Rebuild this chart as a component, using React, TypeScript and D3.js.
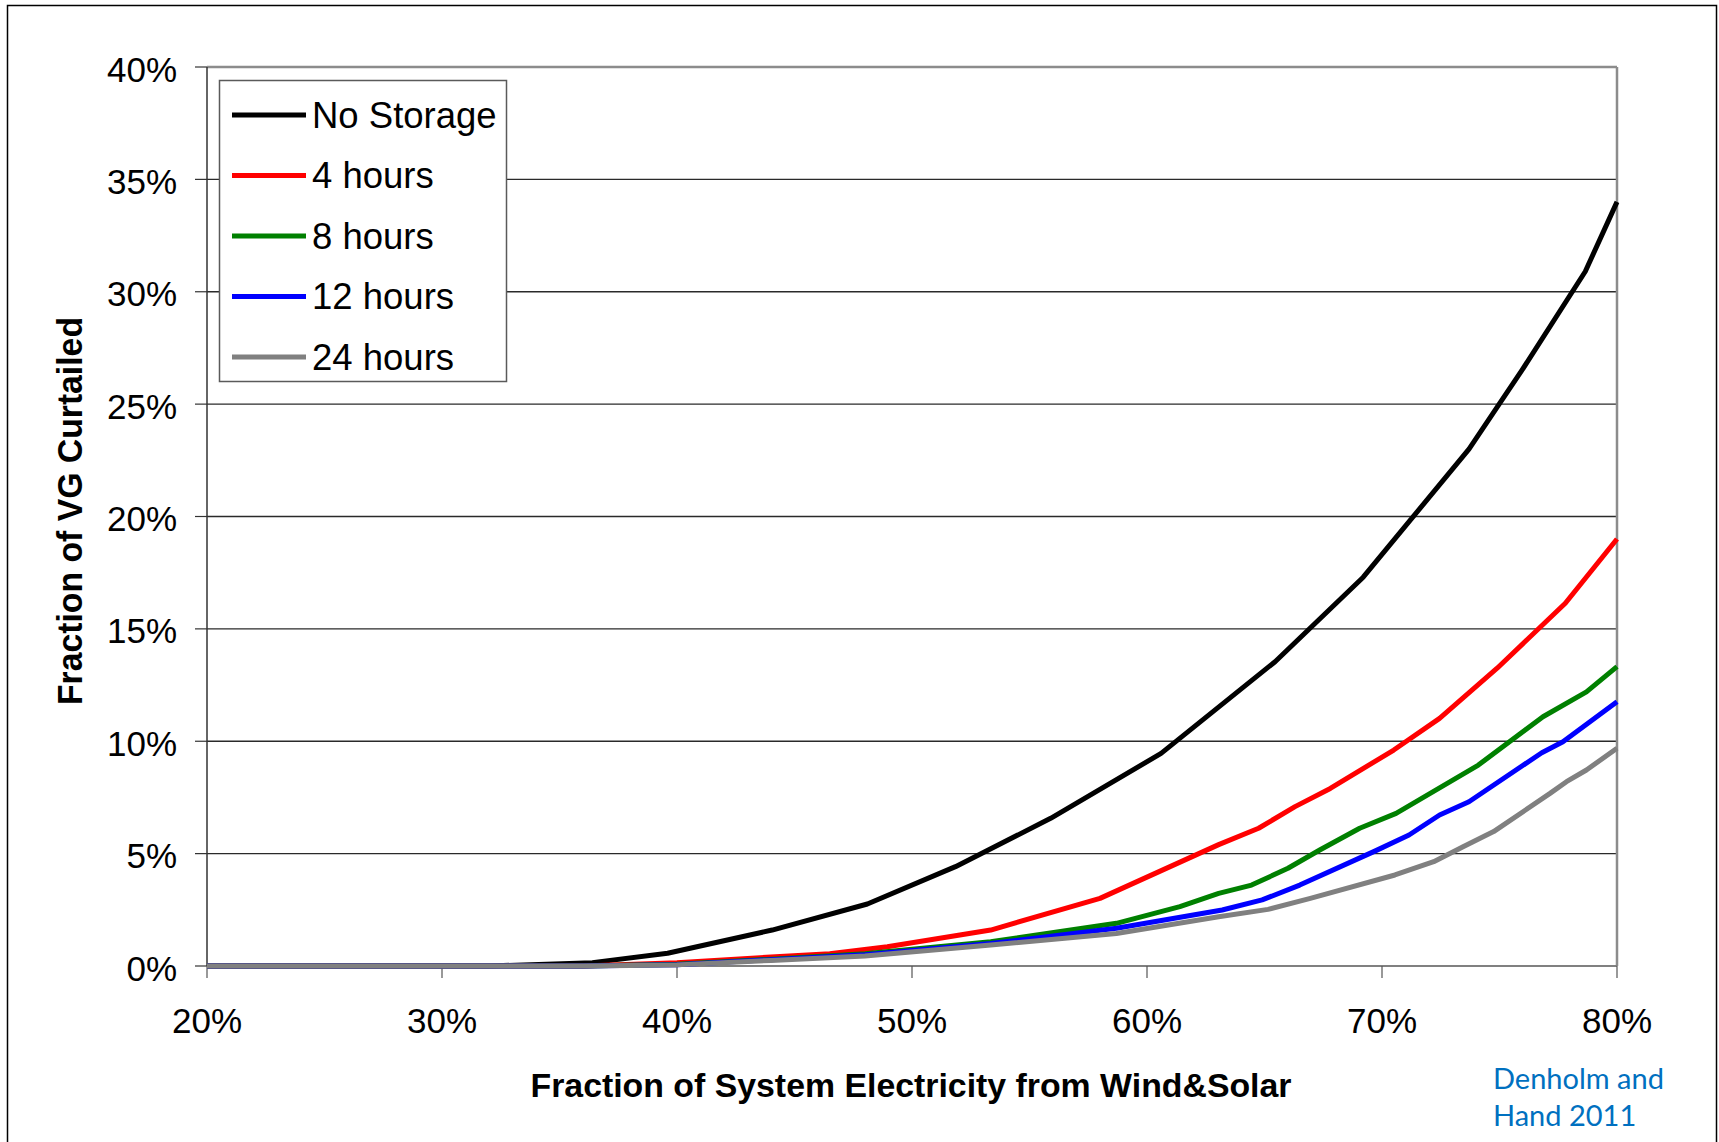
import React from 'react';
import * as d3 from 'd3';

// series values (x = % of electricity from wind & solar, y = % curtailed)
const noStorageX = [20, 24, 28, 32, 36.4, 39.6, 44.05, 48.1, 51.85, 55.9, 60.6, 65.45, 69.2, 73.7, 75.95, 78.65, 80];
const noStorageY = [0, 0, 0, 0, 0.15, 0.57, 1.6, 2.76, 4.42, 6.57, 9.46, 13.54, 17.3, 23.0, 26.5, 30.9, 34.0];

const hours4X = [20, 24, 28, 32, 36, 40, 44, 46.5, 48.95, 53.35, 58.0, 63.05, 64.75, 66.3, 67.8, 70.5, 72.45, 74.9, 77.8, 80];
const hours4Y = [0, 0, 0, 0, 0, 0.15, 0.4, 0.55, 0.86, 1.6, 3.01, 5.4, 6.13, 7.09, 7.9, 9.61, 11.02, 13.25, 16.14, 19.0];

const hours8X = [20, 24, 28, 32, 36, 40, 44, 48, 53.35, 58.7, 61.4, 63.05, 64.45, 66.0, 67.35, 69.05, 70.6, 74.1, 76.85, 78.7, 80];
const hours8Y = [0, 0, 0, 0, 0, 0.08, 0.3, 0.55, 1.08, 1.9, 2.64, 3.23, 3.6, 4.35, 5.16, 6.13, 6.79, 8.94, 11.09, 12.2, 13.32];

const hours12X = [20, 24, 28, 32, 36, 40, 44, 48, 53.35, 58.7, 63.2, 64.9, 66.5, 69.65, 71.15, 72.45, 73.7, 76.8, 77.7, 80];
const hours12Y = [0, 0, 0, 0, 0, 0.06, 0.28, 0.5, 1.0, 1.68, 2.49, 2.94, 3.6, 5.09, 5.83, 6.72, 7.31, 9.49, 9.98, 11.76];

const hours24X = [20, 24, 28, 32, 36, 40, 44, 48, 53.35, 58.7, 63.05, 65.15, 66.95, 70.55, 72.2, 73.45, 74.75, 77.15, 77.85, 78.7, 80];
const hours24Y = [0, 0, 0, 0, 0, 0.05, 0.25, 0.45, 0.93, 1.45, 2.19, 2.52, 3.01, 4.05, 4.64, 5.31, 5.98, 7.68, 8.2, 8.72, 9.69];

const seriesNames = ['No Storage', '4 hours', '8 hours', '12 hours', '24 hours'];
const seriesColors = ['#000000', '#ff0000', '#008000', '#0000ff', '#808080'];
const seriesX = [noStorageX, hours4X, hours8X, hours12X, hours24X];
const seriesY = [noStorageY, hours4Y, hours8Y, hours12Y, hours24Y];

const xTicks = [20, 30, 40, 50, 60, 70, 80];
const yTicks = [0, 5, 10, 15, 20, 25, 30, 35, 40];

const font = '"Liberation Sans", Arial, sans-serif';

const App: React.FC = () => {
    const width = 1719;
    const height = 1142;
    const plot = { left: 207, right: 1617, top: 67, bottom: 966 };

    const x = d3.scaleLinear().domain([20, 80]).range([plot.left, plot.right]);
    const y = d3.scaleLinear().domain([0, 40]).range([plot.bottom, plot.top]);

    const line = d3.line<[number, number]>()
        .x(d => x(d[0]))
        .y(d => y(d[1]));

    const legendRows = [115, 175.5, 236, 296.5, 357];

    return (
        <svg width={width} height={height} style={{ position: 'absolute', left: 0, top: 0, background: '#fff' }}>
            {/* outer frame */}
            <rect x={7.5} y={5.5} width={1709} height={1160} fill="#fff" stroke="#000" strokeWidth={1.5} />

            {/* gridlines */}
            {yTicks.filter(t => t > 0 && t < 40).map(t => (
                <line key={'g' + t} x1={plot.left} x2={plot.right} y1={y(t)} y2={y(t)} stroke="#2a2a2a" strokeWidth={1.3} />
            ))}

            {/* plot frame */}
            <line x1={plot.left} x2={plot.right} y1={plot.top} y2={plot.top} stroke="#8c8c8c" strokeWidth={2.5} />
            <line x1={plot.right} x2={plot.right} y1={plot.top} y2={plot.bottom} stroke="#8c8c8c" strokeWidth={2.5} />
            <line x1={plot.left} x2={plot.right} y1={plot.bottom} y2={plot.bottom} stroke="#808080" strokeWidth={2} />
            <line x1={plot.left} x2={plot.left} y1={plot.top} y2={plot.bottom} stroke="#333" strokeWidth={1.5} />

            {/* y ticks and labels */}
            {yTicks.map(t => (
                <g key={'y' + t}>
                    <line x1={plot.left - 12} x2={plot.left} y1={y(t)} y2={y(t)} stroke="#333" strokeWidth={1.2} />
                    <text x={177} y={y(t) + 14.5} textAnchor="end" fontFamily={font} fontSize={35} fill="#000">{t}%</text>
                </g>
            ))}

            {/* x ticks and labels */}
            {xTicks.map(t => (
                <g key={'x' + t}>
                    <line x1={x(t)} x2={x(t)} y1={plot.bottom} y2={plot.bottom + 12} stroke="#555" strokeWidth={1.2} />
                    <text x={x(t)} y={1033} textAnchor="middle" fontFamily={font} fontSize={35} fill="#000">{t}%</text>
                </g>
            ))}

            {/* series */}
            {seriesX.map((xs, i) => (
                <path
                    key={seriesNames[i]}
                    d={line(xs.map((v, j) => [v, seriesY[i][j]] as [number, number])) || ''}
                    fill="none"
                    stroke={seriesColors[i]}
                    strokeWidth={5}
                    strokeLinejoin="round"
                />
            ))}

            {/* legend */}
            <rect x={219.5} y={80.5} width={287} height={301} fill="#fff" stroke="#5a5a5a" strokeWidth={1.5} />
            {seriesNames.map((name, i) => (
                <g key={'l' + name}>
                    <line x1={232} x2={306} y1={legendRows[i]} y2={legendRows[i]} stroke={seriesColors[i]} strokeWidth={5} />
                    <text x={312} y={legendRows[i] + 12.5} fontFamily={font} fontSize={36.5} fill="#000">{name}</text>
                </g>
            ))}

            {/* axis titles */}
            <text
                transform="translate(82, 511) rotate(-90)"
                textAnchor="middle"
                fontFamily={font}
                fontWeight="bold"
                fontSize={35}
                textLength={388}
                lengthAdjust="spacingAndGlyphs"
                fill="#000"
            >Fraction of VG Curtailed</text>
            <text
                x={911}
                y={1097}
                textAnchor="middle"
                fontFamily={font}
                fontWeight="bold"
                fontSize={34}
                textLength={761}
                lengthAdjust="spacingAndGlyphs"
                fill="#000"
            >Fraction of System Electricity from Wind&amp;Solar</text>

            {/* source note */}
            <text x={1493} y={1089} fontFamily="Lato, 'Open Sans', sans-serif" fontSize={29} fill="#0070c0">Denholm and</text>
            <text x={1493} y={1126} fontFamily="Lato, 'Open Sans', sans-serif" fontSize={29} fill="#0070c0">Hand 2011</text>
        </svg>
    );
};

export default App;
